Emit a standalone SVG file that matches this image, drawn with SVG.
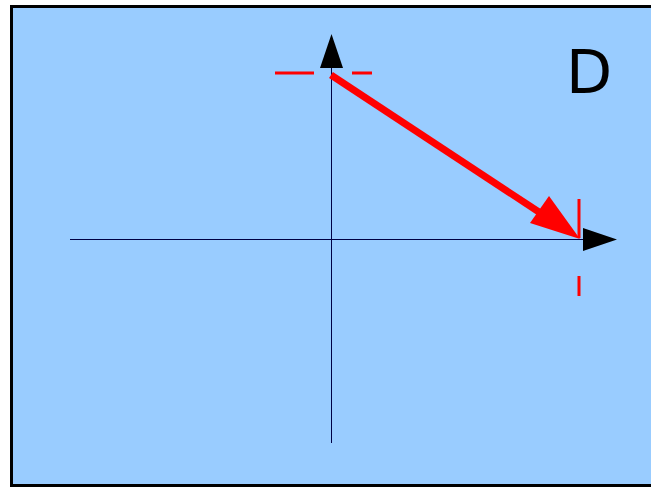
<svg xmlns="http://www.w3.org/2000/svg" width="651" height="487" viewBox="0 0 651 487">
<style>
.axis{stroke:#000044;stroke-width:1;fill:none}
.dash{stroke:#ff0000;stroke-width:3;fill:none}
.head{fill:#000000}
</style>
<g id="frame"><rect x="11.5" y="6.5" width="660" height="479" fill="#99ccff" stroke="#000000" stroke-width="3"/></g>
<g id="connectors">
<line class="axis" x1="331.5" y1="443" x2="331.5" y2="66"/>
<polygon class="head" points="331.5,34 320,68 343,68"/>
<line class="axis" x1="70" y1="239.5" x2="585" y2="239.5"/>
<polygon class="head" points="617,239.5 583,228 583,251"/>
<line class="dash" x1="275" y1="73" x2="314" y2="73"/>
<line class="dash" x1="352" y1="73" x2="372" y2="73"/>
<line class="dash" x1="579" y1="199" x2="579" y2="238"/>
<line class="dash" x1="579" y1="276" x2="579" y2="296"/>
<line x1="331" y1="75" x2="545" y2="216" stroke="#ff0000" stroke-width="7"/>
<polygon fill="#ff0000" points="580,239 530,223 549,196"/>
</g>
<g id="label"><text x="566" y="93" font-family="DejaVu Sans, sans-serif" font-size="60" fill="#000000">D</text></g>
</svg>
